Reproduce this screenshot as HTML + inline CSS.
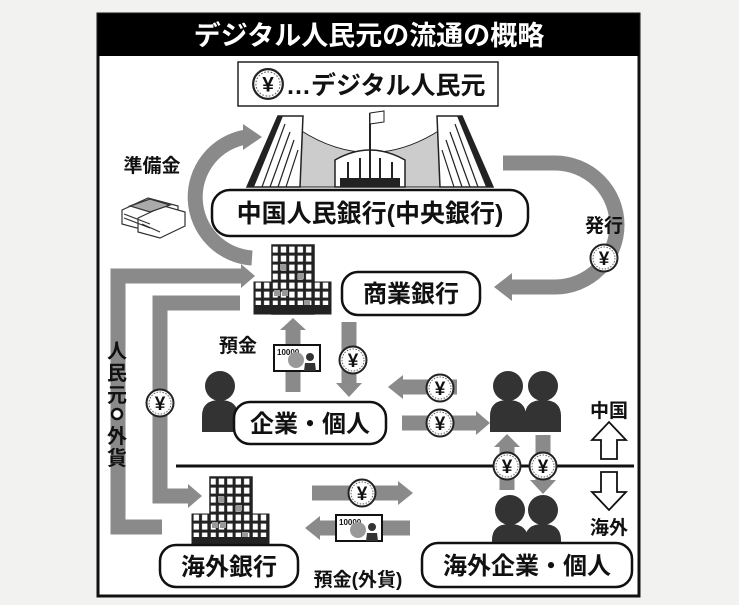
<!DOCTYPE html>
<html><head><meta charset="utf-8"><style>
html,body{margin:0;padding:0;background:#f2f2f0;}
svg{display:block;}
text{font-family:"Liberation Sans","Noto Sans CJK JP",sans-serif;font-weight:bold;}
</style></head><body>
<svg width="739" height="605" viewBox="0 0 739 605" xmlns="http://www.w3.org/2000/svg">
<defs>
<g id="coin"><circle r="13.5" fill="#fff" stroke="#222" stroke-width="2"/><circle r="11" fill="none" stroke="#666" stroke-width="1" stroke-dasharray="1.5 1.5"/><text y="7" text-anchor="middle" font-size="19" fill="#111">¥</text></g>
<pattern id="win" x="0" y="0" width="8.4" height="9" patternUnits="userSpaceOnUse"><rect width="8.4" height="9" fill="#222"/><rect x="1.6" y="1.6" width="5.4" height="6" fill="#fff"/></pattern>
<g id="bank">
<rect x="0" y="37" width="18" height="32" fill="url(#win)" stroke="#222"/>
<rect x="60" y="37" width="17" height="32" fill="url(#win)" stroke="#222"/>
<rect x="18" y="0" width="42" height="69" fill="url(#win)" stroke="#222" stroke-width="1.5"/>
<rect x="26" y="19" width="6" height="6" fill="#999"/><rect x="44" y="28" width="6" height="6" fill="#999"/><rect x="20" y="45" width="6" height="6" fill="#999"/><rect x="28" y="45" width="6" height="6" fill="#999"/><rect x="50" y="55" width="6" height="6" fill="#999"/>
<rect x="0" y="60" width="77" height="9" fill="#222"/>
</g>
<g id="person"><circle cx="0" cy="0" r="15" fill="#333"/><path d="M-18,46 L-18,30 Q-18,14 0,14 Q18,14 18,30 L18,46 Z" fill="#333"/></g>
<g id="note"><rect x="0" y="0" width="46" height="26" fill="#fff" stroke="#111" stroke-width="2"/><text x="3" y="10" font-size="8" font-weight="normal" fill="#111">10000</text><circle cx="22" cy="15" r="8" fill="#999"/><circle cx="36" cy="12" r="4" fill="#333"/><path d="M30,26 L31,18 L41,18 L42,26Z" fill="#333"/></g>
</defs>
<rect x="98" y="14" width="541" height="582" fill="#fff" stroke="#111" stroke-width="3"/>
<rect x="98" y="14" width="541" height="42" fill="#000"/>
<text x="369" y="45" text-anchor="middle" font-size="27" fill="#fff" font-weight="normal">デジタル人民元の流通の概略</text>
<rect x="238" y="62" width="260" height="44" fill="#fff" stroke="#222" stroke-width="1.5"/>
<g transform="translate(268,84) scale(1.1)"><use href="#coin"/></g>
<text x="286" y="94" font-size="25" fill="#111">…デジタル人民元</text>
<g fill="none" stroke="#8a8a8a" stroke-width="15">
<path d="M252,258 A61,61 0 0 1 246,137"/>
<path d="M503,163 L555,163 A62,62 0 0 1 555,287 L510,287"/>
<path d="M243,276 L118,276 L118,527 L162,527"/>
<path d="M240,303 L160,303 L160,496 L190,496"/>
<path d="M293,392 L293,328"/>
<path d="M349,322 L349,385"/>
<path d="M457,387 L400,387"/>
<path d="M402,423 L478,423"/>
<path d="M507,490 L507,445"/>
<path d="M543,435 L543,482"/>
<path d="M312,493 L398,493"/>
<path d="M410,528 L318,528"/>
</g>
<g fill="#8a8a8a">
<path d="M243,124 L262,137 L243,150Z"/>
<path d="M512,273 L494,287 L512,301Z"/>
<path d="M241,264 L255,276 L241,288Z"/>
<path d="M188,484 L202,496 L188,508Z"/>
<path d="M280,330 L293,318 L306,330Z"/>
<path d="M336,383 L349,397 L362,383Z"/>
<path d="M403,375 L388,387 L403,399Z"/>
<path d="M476,411 L490,423 L476,435Z"/>
<path d="M494,447 L507,434 L520,447Z"/>
<path d="M530,480 L543,494 L556,480Z"/>
<path d="M398,481 L413,493 L398,505Z"/>
<path d="M320,516 L305,528 L320,540Z"/>
</g>
<path d="M300,130 Q370,175 440,130 L440,187 L300,187Z" fill="#ccc" stroke="#222"/>
<path d="M278,116 L303,116 L300,187 L247,187Z" fill="#fff" stroke="#222" stroke-width="1.5"/>
<path d="M278,116 L283,116 L254,187 L247,187Z" fill="#222"/>
<g stroke="#222" stroke-width="1.2"><line x1="285" y1="124" x2="262" y2="187"/><line x1="290" y1="132" x2="270" y2="187"/><line x1="294" y1="140" x2="278" y2="187"/><line x1="298" y1="150" x2="286" y2="187"/></g>
<path d="M437,116 L462,116 L493,187 L440,187Z" fill="#fff" stroke="#222" stroke-width="1.5"/>
<path d="M457,116 L462,116 L493,187 L486,187Z" fill="#222"/>
<g stroke="#222" stroke-width="1.2"><line x1="455" y1="124" x2="478" y2="187"/><line x1="450" y1="132" x2="470" y2="187"/><line x1="446" y1="140" x2="462" y2="187"/><line x1="442" y1="150" x2="454" y2="187"/></g>
<path d="M335,187 L335,160 Q370,140 405,160 L405,187Z" fill="#fff" stroke="#222" stroke-width="1.5"/>
<rect x="340" y="178" width="60" height="9" fill="#222"/>
<g stroke="#222" stroke-width="2"><line x1="348" y1="162" x2="348" y2="185"/><line x1="360" y1="158" x2="360" y2="185"/><line x1="380" y1="158" x2="380" y2="185"/><line x1="392" y1="162" x2="392" y2="185"/></g>
<line x1="370" y1="113" x2="370" y2="185" stroke="#222" stroke-width="2"/>
<path d="M370,113 L384,111 L384,122 L370,124Z" fill="#fff" stroke="#222"/>
<rect x="212" y="190" width="316" height="46" rx="18" fill="#fff" stroke="#111" stroke-width="2.5"/>
<text x="370" y="222" text-anchor="middle" font-size="25" fill="#111">中国人民銀行(中央銀行)</text>
<text x="152" y="172" text-anchor="middle" font-size="19" fill="#111">準備金</text>
<g stroke="#333" stroke-width="1.2">
<path d="M122,210 L148,198 L178,206 L178,220 L152,232 L122,224Z" fill="#fff"/>
<path d="M138,218 L164,206 L185,212 L185,226 L160,238 L138,232Z" fill="#fff"/>
<line x1="124" y1="214" x2="150" y2="224"/><line x1="124" y1="218" x2="150" y2="228"/><line x1="142" y1="224" x2="160" y2="232"/>
<path d="M130,206 L150,199 L170,205 L150,212Z" fill="#aaa"/>
</g>
<text x="604" y="232" text-anchor="middle" font-size="19" fill="#111">発行</text>
<use href="#coin" x="604" y="258"/>
<use href="#bank" x="254" y="245"/>
<rect x="342" y="272" width="138" height="43" rx="16" fill="#fff" stroke="#111" stroke-width="2.5"/>
<text x="411" y="302" text-anchor="middle" font-size="24" fill="#111">商業銀行</text>
<text x="117" y="358" text-anchor="middle" font-size="20" fill="#111">人</text>
<text x="117" y="380" text-anchor="middle" font-size="20" fill="#111">民</text>
<text x="117" y="402" text-anchor="middle" font-size="20" fill="#111">元</text>
<circle cx="117" cy="414" r="5" fill="#fff" stroke="#111" stroke-width="2.5"/>
<text x="117" y="443" text-anchor="middle" font-size="20" fill="#111">外</text>
<text x="117" y="465" text-anchor="middle" font-size="20" fill="#111">貨</text>
<use href="#coin" x="160" y="403"/>
<text x="238" y="352" text-anchor="middle" font-size="19" fill="#111">預金</text>
<use href="#note" x="274" y="345"/>
<use href="#coin" x="353" y="360"/>
<use href="#person" x="220" y="386"/>
<rect x="234" y="402" width="152" height="42" rx="16" fill="#fff" stroke="#111" stroke-width="2.5"/>
<text x="310" y="432" text-anchor="middle" font-size="24" fill="#111">企業・個人</text>
<use href="#coin" x="440" y="388"/>
<use href="#coin" x="440" y="423"/>
<use href="#person" x="508" y="386"/>
<use href="#person" x="543" y="386"/>
<line x1="176" y1="466" x2="634" y2="466" stroke="#111" stroke-width="3"/>
<use href="#coin" x="507" y="466"/>
<use href="#coin" x="543" y="466"/>
<text x="609" y="417" text-anchor="middle" font-size="19" fill="#111">中国</text>
<path d="M601,459 L601,440 L592,440 L609,422 L626,440 L617,440 L617,459Z" fill="#fff" stroke="#111" stroke-width="1.8"/>
<path d="M601,472 L601,492 L592,492 L609,510 L626,492 L617,492 L617,472Z" fill="#fff" stroke="#111" stroke-width="1.8"/>
<text x="609" y="534" text-anchor="middle" font-size="19" fill="#111">海外</text>
<use href="#bank" x="192" y="477"/>
<rect x="160" y="545" width="138" height="42" rx="16" fill="#fff" stroke="#111" stroke-width="2.5"/>
<text x="229" y="575" text-anchor="middle" font-size="24" fill="#111">海外銀行</text>
<use href="#coin" x="362" y="493"/>
<use href="#note" x="336" y="515"/>
<text x="358" y="586" text-anchor="middle" font-size="19" fill="#111">預金(外貨)</text>
<use href="#person" x="510" y="510"/>
<use href="#person" x="543" y="510"/>
<rect x="422" y="543" width="210" height="44" rx="16" fill="#fff" stroke="#111" stroke-width="2.5"/>
<text x="527" y="574" text-anchor="middle" font-size="24" fill="#111">海外企業・個人</text>
</svg>
</body></html>
